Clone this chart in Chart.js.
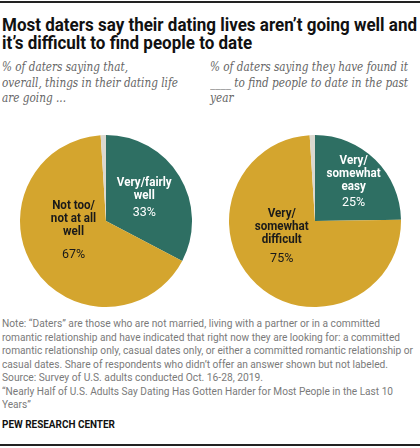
<!DOCTYPE html>
<html>
<head>
<meta charset="utf-8">
<script src="https://cdn.jsdelivr.net/npm/chart.js@4"></script>
<style>
  body { margin: 0; width: 420px; height: 448px; background: #fff; position: relative; overflow: hidden; }
  .rule { position: absolute; left: 0; width: 420px; background: #222; }
  .t { position: absolute; left: 2px; white-space: nowrap; transform-origin: 0 0; }
  .title { font: 700 19px Roboto, sans-serif; color: #111; line-height: 18px; }
  .sub { font: italic 12.5px "DejaVu Serif", serif; color: #666; line-height: 15.5px; }
  .note { font: 11px Roboto, sans-serif; color: #7a7a7a; line-height: 13.5px; }
  .brand { font: 700 11.5px Roboto, sans-serif; color: #111; line-height: 14px; }
  canvas { position: absolute; }
</style>
</head>
<body>
<div class="rule" style="top:1px;height:1.5px"></div>

<div class="t title" style="top:16px" data-w="415">Most daters say their dating lives aren’t going well and</div>
<div class="t title" style="top:34px">it’s difficult to find people to date</div>

<div class="t sub" style="top:59px" data-w="126">% of daters saying that,</div>
<div class="t sub" style="top:74.5px" data-w="176">overall, things in their dating life</div>
<div class="t sub" style="top:90px">are going ...</div>

<div class="t sub" style="top:59px;left:210px" data-w="198">% of daters saying they have found it</div>
<div class="t sub" style="top:74.5px;left:210px" data-w="198">____ to find people to date in the past</div>
<div class="t sub" style="top:90px;left:210px">year</div>

<canvas id="chWell" width="180" height="180" style="left:16px;top:131px;width:180px;height:180px"></canvas>
<canvas id="chEasy" width="180" height="180" style="left:225px;top:131px;width:180px;height:180px"></canvas>

<div class="t note" style="top:317px" data-w="378">Note: “Daters” are those who are not married, living with a partner or in a committed</div>
<div class="t note" style="top:330.5px" data-w="398">romantic relationship and have indicated that right now they are looking for: a committed</div>
<div class="t note" style="top:344px" data-w="411">romantic relationship only, casual dates only, or either a committed romantic relationship or</div>
<div class="t note" style="top:357.5px" data-w="386">casual dates. Share of respondents who didn’t offer an answer shown but not labeled.</div>
<div class="t note" style="top:371px" data-w="261">Source: Survey of U.S. adults conducted Oct. 16-28, 2019.</div>
<div class="t note" style="top:384.5px" data-w="391">“Nearly Half of U.S. Adults Say Dating Has Gotten Harder for Most People in the Last 10</div>
<div class="t note" style="top:398px">Years”</div>
<div class="t brand" style="top:417px" data-w="113">PEW RESEARCH CENTER</div>

<div class="rule" style="top:444px;height:1.5px"></div>

<script>
// data
var colors = ['#2e6f63', '#d4a52e', '#dbd8cf'];

var wellLabels = ['Very/fairly well', 'Not too/not at all well', 'No answer'];
var wellValues = [33, 67, 1];
var wellNames = [['Very/fairly', 'well'], ['Not too/', 'not at all', 'well'], null];

var easyLabels = ['Very/somewhat easy', 'Very/somewhat difficult', 'No answer'];
var easyValues = [25, 75, 1];
var easyNames = [['Very/', 'somewhat', 'easy'], ['Very/', 'somewhat', 'difficult'], null];

// squeeze text lines to the widths in the picture
var lastScale = 1;
document.querySelectorAll('.t').forEach(function (el) {
  var w = +el.getAttribute('data-w');
  if (w) lastScale = w / el.getBoundingClientRect().width;
  el.style.transform = 'scaleX(' + lastScale + ')';
});

var sliceLabels = {
  id: 'sliceLabels',
  afterDatasetsDraw: function (chart, args, opts) {
    var ctx = chart.ctx;
    var meta = chart.getDatasetMeta(0);
    var vals = chart.data.datasets[0].data;
    opts.names.forEach(function (lines, i) {
      if (!lines) return;
      var arc = meta.data[i];
      var mid = (arc.startAngle + arc.endAngle) / 2;
      var r = arc.outerRadius * opts.frac[i];
      var cx = arc.x + Math.cos(mid) * r + opts.shift[i][0];
      var cy = arc.y + Math.sin(mid) * r + opts.shift[i][1];
      var lh = 13;
      var total = (lines.length - 1) * lh + opts.pctGap[i];
      var y = cy - total / 2;
      ctx.save();
      ctx.fillStyle = opts.color[i];
      ctx.textAlign = 'center';
      ctx.textBaseline = 'middle';
      lines.forEach(function (s, k) {
        ctx.save();
        ctx.translate(cx, y + k * lh);
        ctx.scale(0.93, 1);
        ctx.font = '700 12.5px Roboto, sans-serif';
        ctx.fillText(s, 0, 0);
        ctx.restore();
      });
      ctx.font = '12.5px Roboto, sans-serif';
      ctx.fillText(Math.round(vals[i]) + '%', cx, y + (lines.length - 1) * lh + opts.pctGap[i]);
      ctx.restore();
    });
  }
};

function pieOptions(names, frac, shift, pctGap) {
  return {
    responsive: false,
    animation: false,
    layout: { padding: 4 },
    plugins: {
      legend: { display: false },
      tooltip: { enabled: false },
      sliceLabels: {
        names: names,
        frac: frac,
        shift: shift,
        pctGap: pctGap,
        color: ['#fff', '#1a1a1a', '#1a1a1a']
      }
    }
  };
}

var chWell = document.getElementById('chWell');
if (chWell) {
  new Chart(chWell, {
    type: 'pie',
    data: {
      labels: wellLabels,
      datasets: [{ backgroundColor: colors, borderWidth: 0, data: wellValues }]
    },
    options: pieOptions(wellNames, [0.52, 0.45, 0], [[0, 0], [0, -12], [0, 0]], [17, 23, 0]),
    plugins: [sliceLabels]
  });
}

var chEasy = document.getElementById('chEasy');
if (chEasy) {
  new Chart(chEasy, {
    type: 'pie',
    data: {
      labels: easyLabels,
      datasets: [{ backgroundColor: colors, borderWidth: 0, data: easyValues }]
    },
    options: pieOptions(easyNames, [0.64, 0.45, 0], [[0, 0], [-7, -13], [0, 0]], [16, 19, 0]),
    plugins: [sliceLabels]
  });
}
</script>
</body>
</html>
